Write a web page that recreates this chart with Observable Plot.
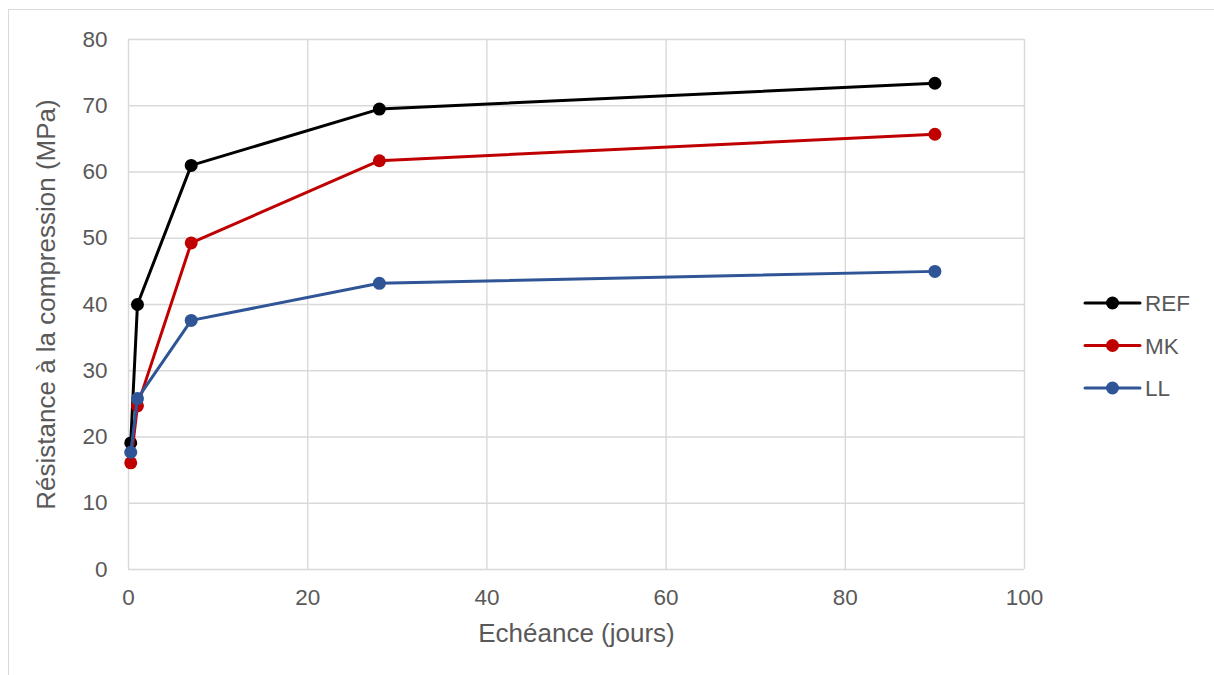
<!DOCTYPE html>
<html>
<head>
<meta charset="utf-8">
<script src="https://cdn.jsdelivr.net/npm/d3@7"></script>
<script src="https://cdn.jsdelivr.net/npm/@observablehq/plot@0.6"></script>
<style>
  html, body { margin: 0; padding: 0; background: #fff; }
  #wrap { position: relative; width: 1214px; height: 675px; overflow: hidden; font-family: "Liberation Sans", Arial, sans-serif; }
  #frame { position: absolute; left: 8px; top: 9px; right: -2px; bottom: -2px; border-top: 1.5px solid #d9d9d9; border-left: 1.5px solid #d9d9d9; }
  #chart { position: absolute; left: 0; top: 0; }
  #legend { position: absolute; left: 1080px; top: 280px; }
</style>
</head>
<body>
<div id="wrap">
  <div id="frame"></div>
  <div id="chart"></div>
  <div id="legend"></div>
</div>
<script>
const days = [0.25, 1, 7, 28, 90];
const seriesNames = ["REF", "MK", "LL"];
const seriesColors = ["#000000", "#c00000", "#2f5597"];
const refValues = [19.1, 40.0, 61.0, 69.5, 73.4];
const mkValues = [16.1, 24.7, 49.3, 61.7, 65.7];
const llValues = [17.7, 25.8, 37.6, 43.2, 45.0];
const xTicks = [0, 20, 40, 60, 80, 100];
const yTicks = [0, 10, 20, 30, 40, 50, 60, 70, 80];
const xLabel = "Echéance (jours)";
const yLabel = "Résistance à la compression (MPa)";

const valuesBySeries = [refValues, mkValues, llValues];
const data = [];
seriesNames.forEach((s, i) => {
  valuesBySeries[i].forEach((v, j) => data.push({series: s, day: days[j], value: v}));
});

const textColor = "#595959";
const gridColor = "#d9d9d9";

const seriesMarks = seriesNames.flatMap((s) => {
  const d = data.filter(r => r.series === s);
  return [
    Plot.line(d, {x: "day", y: "value", stroke: "series", strokeWidth: 3}),
    Plot.dot(d, {x: "day", y: "value", fill: "series", r: 6.5, stroke: "none"})
  ];
});

const chart = Plot.plot({
  width: 1214,
  height: 675,
  marginLeft: 128,
  marginRight: 190,
  marginTop: 39,
  marginBottom: 106,
  style: {fontFamily: "'Liberation Sans', Arial, sans-serif", background: "transparent", color: textColor},
  x: {domain: [0, 100], ticks: xTicks},
  y: {domain: [0, 80], ticks: yTicks},
  color: {domain: seriesNames, range: seriesColors},
  marks: [
    Plot.gridX(xTicks, {stroke: gridColor, strokeOpacity: 1, strokeWidth: 1.4}),
    Plot.gridY(yTicks, {stroke: gridColor, strokeOpacity: 1, strokeWidth: 1.4}),
    Plot.axisX(xTicks, {tickSize: 0, tickPadding: 20, fontSize: 22.5, fill: textColor,
      label: xLabel, labelAnchor: "center", labelArrow: "none", labelOffset: 72}),
    Plot.axisY(yTicks, {tickSize: 0, tickPadding: 21, fontSize: 22.5, fill: textColor,
      label: yLabel, labelAnchor: "center", labelArrow: "none", labelOffset: 92}),
    ...seriesMarks
  ]
});
// enlarge axis titles
chart.querySelectorAll("[aria-label='x-axis label'] text, [aria-label='y-axis label'] text").forEach(t => {
  t.setAttribute("font-size", "26px");
  t.style.fontSize = "26px";
});
document.getElementById("chart").appendChild(chart);

// legend
const lg = d3.select("#legend").append("svg").attr("width", 130).attr("height", 130)
  .style("font-family", "'Liberation Sans', Arial, sans-serif");
seriesNames.forEach((s, i) => {
  const y = 23 + i * 42.5;
  const g = lg.append("g");
  g.append("line").attr("x1", 5).attr("x2", 60).attr("y1", y).attr("y2", y)
    .attr("stroke", seriesColors[i]).attr("stroke-width", 3).attr("stroke-linecap", "round");
  g.append("circle").attr("cx", 32.5).attr("cy", y).attr("r", 6.5).attr("fill", seriesColors[i]);
  g.append("text").attr("x", 65).attr("y", y).attr("dy", "0.36em")
    .attr("font-size", "22.5px").attr("fill", textColor).text(s);
});
</script>
</body>
</html>
